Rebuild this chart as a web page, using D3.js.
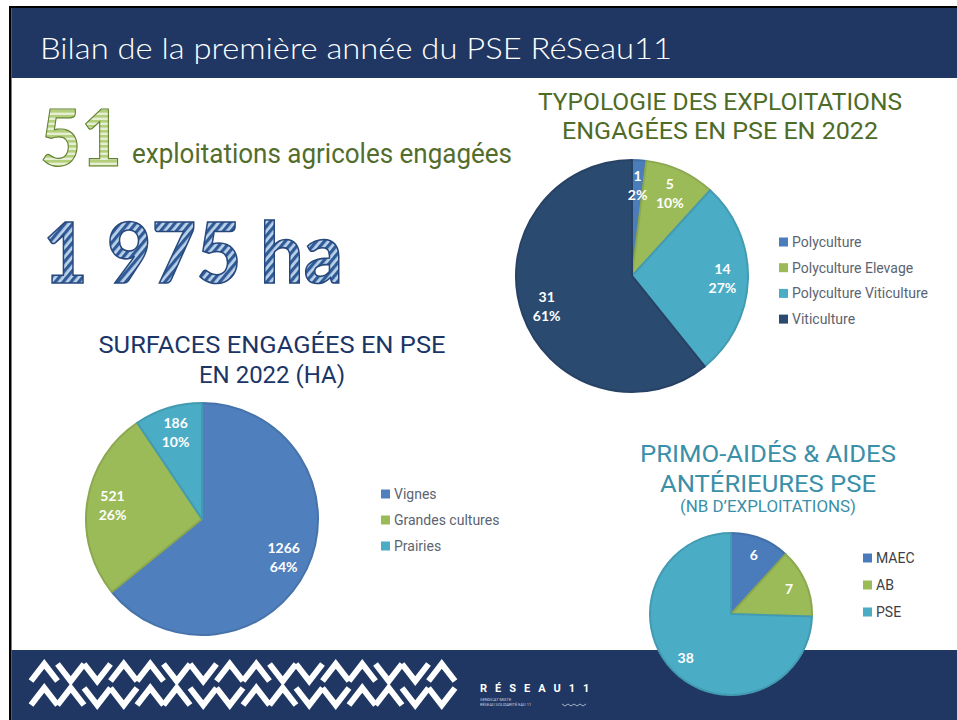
<!DOCTYPE html>
<html lang="fr">
<head>
<meta charset="utf-8">
<script src="https://cdn.jsdelivr.net/npm/d3@7"></script>
<style>
  html, body { margin: 0; padding: 0; background: #fff; }
  svg { display: block; }
</style>
</head>
<body>
<div id="slide"></div>
<script>
// Chiffres clés
const nbExploitations = "51"
const totalSurface = "1 975 ha"

// Typologie des exploitations engagées
const typoCategories = ["Polyculture", "Polyculture Elevage", "Polyculture Viticulture", "Viticulture"]
const typoValues = [1, 5, 14, 31]
const typoPercents = ["2%", "10%", "27%", "61%"]

// Surfaces engagées (ha)
const surfCategories = ["Vignes", "Grandes cultures", "Prairies"]
const surfValues = [1266, 521, 186]
const surfPercents = ["64%", "26%", "10%"]

// Primo-aidés & aides antérieures
const primoCategories = ["MAEC", "AB", "PSE"]
const primoValues = [6, 7, 38]

// Couleurs
const navy = "#1f3762"
const typoColors = ["#4a7dba", "#9bbb59", "#4bacc6", "#2b4a70"]
const surfColors = ["#4f80bd", "#9bbb59", "#4bacc6"]
const primoColors = ["#4a7bbb", "#9bbb59", "#4bacc6"]

const W = 957
const H = 720
const svg = d3.select("#slide").append("svg").attr("width", W).attr("height", H)

// Motifs rayés des gros chiffres
const defs = svg.append("defs")
const pGreen = defs.append("pattern").attr("id", "stripesGreen")
  .attr("patternUnits", "userSpaceOnUse").attr("width", 6).attr("height", 5)
pGreen.append("rect").attr("width", 6).attr("height", 5).attr("fill", "#e6efd4")
pGreen.append("rect").attr("width", 6).attr("height", 2.6).attr("fill", "#b3cf7c")

const pBlue = defs.append("pattern").attr("id", "stripesBlue")
  .attr("patternUnits", "userSpaceOnUse").attr("width", 6).attr("height", 6)
  .attr("patternTransform", "rotate(40)")
pBlue.append("rect").attr("width", 6).attr("height", 6).attr("fill", "#bcd1ea")
pBlue.append("rect").attr("width", 3.2).attr("height", 6).attr("fill", "#2f5b96")

// Cadre, bandeau de titre et pied de page
svg.append("rect").attr("x", 9).attr("y", 6).attr("width", W - 9).attr("height", 2).attr("fill", "#000")
svg.append("rect").attr("x", 9).attr("y", 6).attr("width", 2.5).attr("height", H - 6).attr("fill", "#000")
svg.append("rect").attr("x", 11.5).attr("y", 8).attr("width", W - 11.5).attr("height", 70).attr("fill", navy)
svg.append("rect").attr("x", 11.5).attr("y", 650).attr("width", W - 11.5).attr("height", 70).attr("fill", navy)

svg.append("text")
  .attr("x", 40).attr("y", 59)
  .attr("font-family", "Lato, sans-serif").attr("font-weight", 300)
  .attr("font-size", 29).attr("fill", "#fff")
  .attr("textLength", 632).attr("lengthAdjust", "spacingAndGlyphs")
  .text("Bilan de la première année du PSE RéSeau11")

// Logo du pied de page : chevrons
const chevrons = [
  { y: 664, seq: "^vv^^vv^^vv^^vv^" },
  { y: 688, seq: "^^vv^^vv^^vv^^vv" },
]
const chevW = 26.5
const chevH = 17
chevrons.forEach((row) => {
  row.seq.split("").forEach((c, i) => {
    const x0 = 31 + i * chevW
    const top = row.y
    const bot = row.y + chevH
    const pts = c === "^"
      ? [[x0, bot], [x0 + chevW / 2, top], [x0 + chevW, bot]]
      : [[x0, top], [x0 + chevW / 2, bot], [x0 + chevW, top]]
    svg.append("path")
      .attr("d", d3.line()(pts))
      .attr("fill", "none").attr("stroke", "#fff")
      .attr("stroke-width", 6).attr("stroke-linejoin", "miter")
  })
})
svg.append("text")
  .attr("x", 480).attr("y", 692)
  .attr("font-family", "Roboto, sans-serif").attr("font-weight", 700)
  .attr("font-size", 11).attr("fill", "#fff").attr("letter-spacing", 8)
  .text("RÉSEAU11")
svg.append("text")
  .attr("x", 480).attr("y", 701)
  .attr("font-family", "Roboto, sans-serif").attr("font-size", 4)
  .attr("fill", "#c8d2e2").text("SENDICAT MIXTE")
svg.append("text")
  .attr("x", 480).attr("y", 706)
  .attr("font-family", "Roboto, sans-serif").attr("font-size", 4)
  .attr("fill", "#c8d2e2").text("RÉSEAU SOLIDARITÉ EAU 11")
svg.append("path")
  .attr("d", d3.line()(d3.range(9).map((i) => [562 + i * 3, 704 + (i % 2 ? 2 : 0)])))
  .attr("fill", "none").attr("stroke", "#c8d2e2").attr("stroke-width", 0.8)

// Chiffres clés
svg.append("text")
  .attr("x", 40).attr("y", 166)
  .attr("font-family", "Lato, sans-serif").attr("font-weight", 700)
  .attr("font-size", 78).attr("fill", "url(#stripesGreen)")
  .attr("stroke", "#62822f").attr("stroke-width", 1.2)
  .attr("textLength", 82).attr("lengthAdjust", "spacingAndGlyphs")
  .text(nbExploitations)
svg.append("text")
  .attr("x", 132).attr("y", 163)
  .attr("font-family", "Roboto, sans-serif").attr("font-size", 27)
  .attr("fill", "#526d2c")
  .attr("textLength", 380).attr("lengthAdjust", "spacingAndGlyphs")
  .text("exploitations agricoles engagées")
svg.append("text")
  .attr("x", 43).attr("y", 283)
  .attr("font-family", "Lato, sans-serif").attr("font-weight", 700)
  .attr("font-size", 84).attr("fill", "url(#stripesBlue)")
  .attr("stroke", "#27487c").attr("stroke-width", 1.6)
  .attr("textLength", 300).attr("lengthAdjust", "spacingAndGlyphs")
  .text(totalSurface)

// Titres de graphique
function drawTitle(lines, cx, color) {
  lines.forEach(({ text, y, size, width }) => {
    svg.append("text")
      .attr("x", cx).attr("y", y)
      .attr("text-anchor", "middle")
      .attr("font-family", "Roboto, sans-serif")
      .attr("font-size", size).attr("fill", color)
      .attr("textLength", width).attr("lengthAdjust", "spacingAndGlyphs")
      .text(text)
  })
}

// Camembert avec étiquettes et légende
function drawPie(cfg) {
  const data = cfg.categories.map((name, i) => ({
    name,
    value: cfg.values[i],
    lines: cfg.percents ? [String(cfg.values[i]), cfg.percents[i]] : [String(cfg.values[i])],
  }))
  const color = d3.scaleOrdinal().domain(cfg.categories).range(cfg.colors)
  const pie = d3.pie().sort(null).value((d) => d.value)
  const arc = d3.arc().innerRadius(0).outerRadius(cfg.radius)
  const labelR = cfg.radius * 0.78
  const arcLabel = d3.arc().innerRadius(labelR).outerRadius(labelR)

  const content = svg.append("g")
    .attr("transform", "translate(" + cfg.cx + "," + cfg.cy + ")")
  const arcs = pie(data)

  content.selectAll("path.slice")
    .data(arcs)
    .enter()
    .append("path")
    .attr("class", "slice")
    .attr("d", arc)
    .attr("fill", (d) => color(d.data.name))
    .attr("stroke", (d) => d3.color(color(d.data.name)).darker(0.3))
    .attr("stroke-width", 2)
    .attr("stroke-linejoin", "round")

  arcs.forEach((d) => {
    const [x, y] = arcLabel.centroid(d)
    const n = d.data.lines.length
    d.data.lines.forEach((line, j) => {
      content.append("text")
        .attr("x", x)
        .attr("y", y + (j - (n - 1) / 2) * 19 + 5)
        .attr("text-anchor", "middle")
        .attr("font-family", "Lato, sans-serif").attr("font-weight", 700)
        .attr("font-size", 14).attr("fill", "#fff")
        .text(line)
    })
  })

  const legends = svg.append("g")
    .attr("transform", "translate(" + cfg.legendX + "," + cfg.legendY + ")")
  cfg.categories.forEach((name, i) => {
    legends.append("rect")
      .attr("x", 0).attr("y", i * cfg.legendSpace - 4.5)
      .attr("width", 9).attr("height", 9)
      .attr("fill", color(name))
    legends.append("text")
      .attr("x", 13).attr("y", i * cfg.legendSpace + 5)
      .attr("font-family", "Roboto, sans-serif")
      .attr("font-size", 14).attr("fill", cfg.legendColor)
      .text(name)
  })
}

drawTitle([
  { text: "TYPOLOGIE DES EXPLOITATIONS", y: 110, size: 24, width: 364 },
  { text: "ENGAGÉES EN PSE EN 2022", y: 139, size: 24, width: 316 },
], 720, "#4e6b27")
drawPie({
  categories: typoCategories, values: typoValues, percents: typoPercents,
  colors: typoColors, cx: 632, cy: 276, radius: 116,
  legendX: 779, legendY: 242, legendSpace: 25.7, legendColor: "#5b6470",
})

drawTitle([
  { text: "SURFACES ENGAGÉES EN PSE", y: 353, size: 24, width: 347 },
  { text: "EN 2022 (HA)", y: 383, size: 24, width: 146 },
], 272, "#1b3567")
drawPie({
  categories: surfCategories, values: surfValues, percents: surfPercents,
  colors: surfColors, cx: 202, cy: 519, radius: 116,
  legendX: 381, legendY: 494, legendSpace: 26, legendColor: "#5b6470",
})

drawTitle([
  { text: "PRIMO-AIDÉS & AIDES", y: 462, size: 24, width: 256 },
  { text: "ANTÉRIEURES PSE", y: 492, size: 24, width: 216 },
  { text: "(NB D’EXPLOITATIONS)", y: 512, size: 16, width: 176 },
], 768, "#3a8fa9")
drawPie({
  categories: primoCategories, values: primoValues,
  colors: primoColors, cx: 731, cy: 614, radius: 81,
  legendX: 863, legendY: 558, legendSpace: 27, legendColor: "#404040",
})
</script>
</body>
</html>
